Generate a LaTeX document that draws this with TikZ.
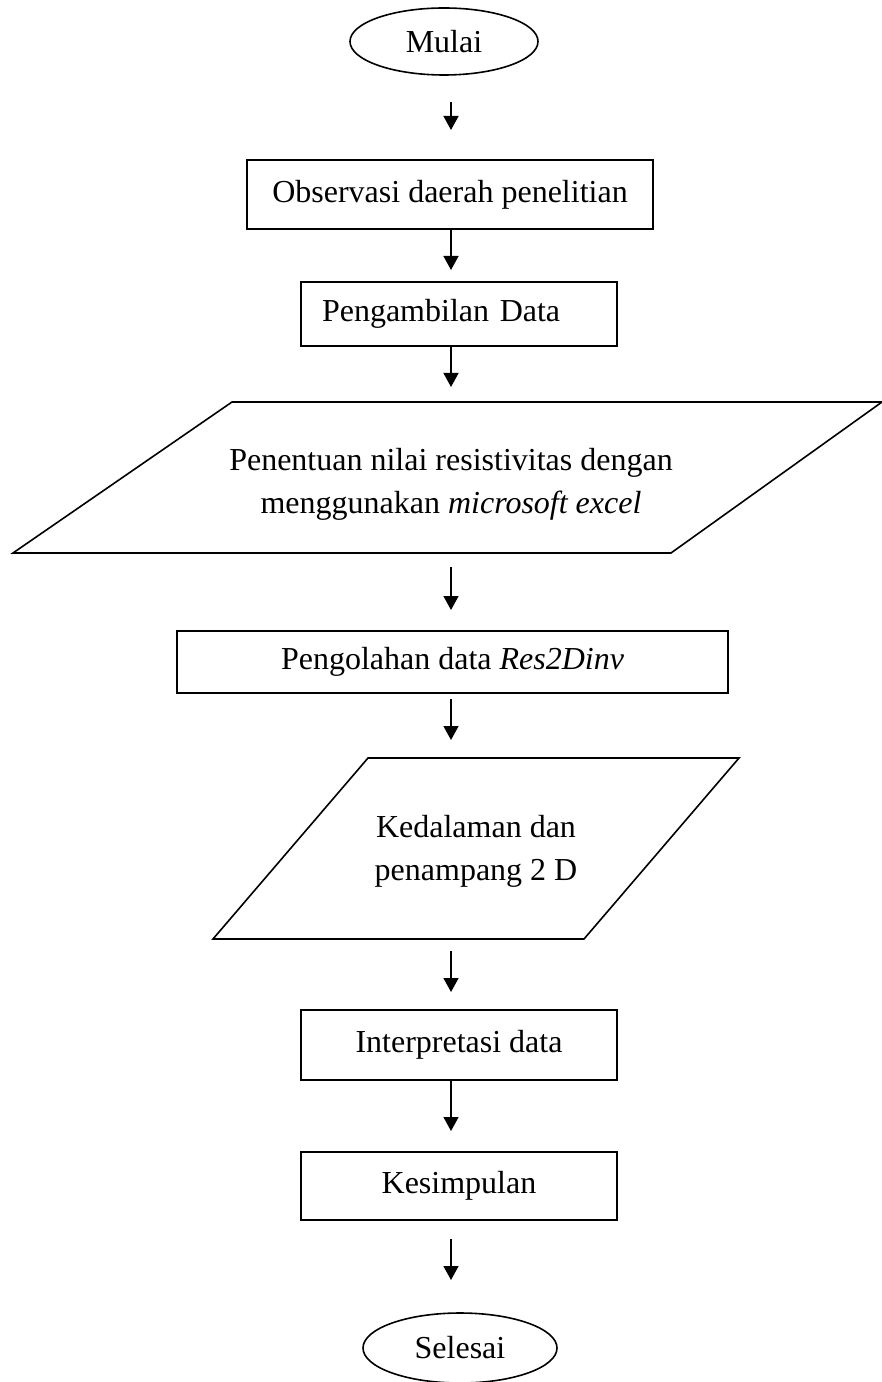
\documentclass[tikz,border=0pt]{standalone}
\usepackage{fontspec}
\setmainfont{Liberation Serif}
\usetikzlibrary{shapes.geometric,arrows.meta}
\begin{document}
\begin{tikzpicture}[x=0.375pt,y=-0.375pt,
  every node/.style={font=\fontsize{12pt}{16.125pt}\selectfont},
  stepbox/.style={draw,line width=0.6pt,rectangle,inner sep=0pt,align=center},
  term/.style={draw,line width=0.6pt,ellipse,inner sep=0pt},
  para/.style={draw,line width=0.6pt,line join=miter},
  txt/.style={inner sep=0pt,align=center},
  arr/.style={line width=0.6pt,-{Triangle[length=5.25pt,width=5.6pt]}}]
\useasboundingbox (0,0) rectangle (882,1382);

% terminals
\node[term,minimum width=70.5pt,minimum height=25.125pt] (mulai) at (444,41.5) {Mulai};
\node[term,minimum width=72.75pt,minimum height=26.25pt] (selesai) at (460,1348) {Selesai};

% process boxes
\node[stepbox,minimum width=152.25pt,minimum height=25.875pt] (obs) at (450,194.5) {Observasi daerah penelitian};
\node[stepbox,minimum width=118.5pt,minimum height=24pt,text width=118.5pt-15.75pt,align=left,inner xsep=7.875pt,inner ysep=0pt] (peng) at (459,314) {Pengambilan Data};
\node[stepbox,minimum width=206.625pt,minimum height=23.25pt] (res) at (452.5,662) {Pengolahan data \textit{Res2Dinv}};
\node[stepbox,minimum width=118.5pt,minimum height=26.25pt] (interp) at (459,1045) {Interpretasi data};
\node[stepbox,minimum width=118.5pt,minimum height=25.5pt] (kes) at (459,1186) {Kesimpulan};

% parallelogram 1
\coordinate (p1a) at (232,402);
\coordinate (p1b) at (882,402);
\coordinate (p1c) at (671,553);
\coordinate (p1d) at (13,553);
\draw[para] (p1a) -- (p1b) -- (p1c) -- (p1d) -- cycle;
\node[txt] (penentuan) at (451,484) {Penentuan nilai resistivitas dengan\\menggunakan \textit{microsoft excel}};

% parallelogram 2
\coordinate (p2a) at (368,758);
\coordinate (p2b) at (739,758);
\coordinate (p2c) at (584,939);
\coordinate (p2d) at (213,939);
\draw[para] (p2a) -- (p2b) -- (p2c) -- (p2d) -- cycle;
\node[txt] (kedalaman) at (476,851) {Kedalaman dan\\penampang 2 D};

% arrows
\coordinate (a1s) at (451,102);  \coordinate (a1e) at (451,130);
\coordinate (a2e) at (451,270);
\coordinate (a3e) at (451,387);
\coordinate (a4s) at (451,567);  \coordinate (a4e) at (451,610);
\coordinate (a5s) at (451,699);  \coordinate (a5e) at (451,740);
\coordinate (a6s) at (451,951);  \coordinate (a6e) at (451,992);
\coordinate (a7e) at (451,1131);
\coordinate (a8s) at (451,1239); \coordinate (a8e) at (451,1280);

\draw[arr] (a1s) -- (a1e);
\draw[arr] (obs.south -| a2e) -- (a2e);
\draw[arr] (peng.south -| a3e) -- (a3e);
\draw[arr] (a4s) -- (a4e);
\draw[arr] (a5s) -- (a5e);
\draw[arr] (a6s) -- (a6e);
\draw[arr] (interp.south -| a7e) -- (a7e);
\draw[arr] (a8s) -- (a8e);
\end{tikzpicture}
\end{document}
